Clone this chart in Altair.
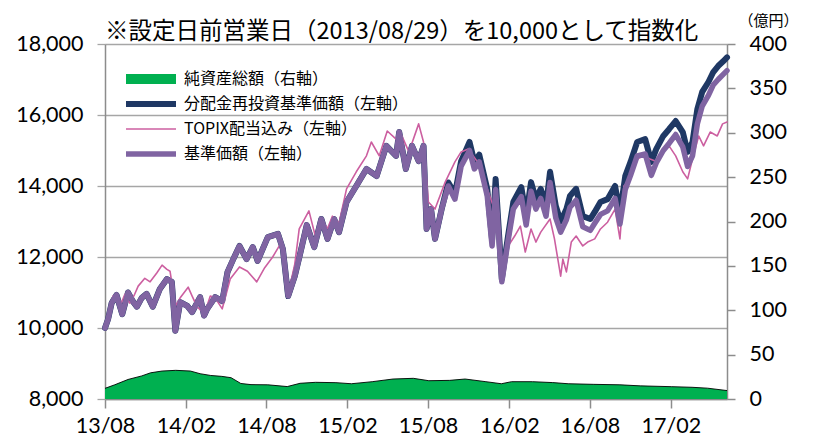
import altair as alt
import pandas as pd

# ---------------- data ----------------
S_NAV = "純資産総額（右軸）"
S_RE = "分配金再投資基準価額（左軸）"
S_TPX = "TOPIX配当込み（左軸）"
S_BASE = "基準価額（左軸）"
series_names = [S_NAV, S_RE, S_TPX, S_BASE]
series_colors = ["#00B050", "#1F3864", "#CC5FA0", "#8064A2"]
series_widths = [10, 6, 1.6, 5.5]

base_dates = [
    "2013-08-29", "2013-09-05", "2013-09-13", "2013-09-24", "2013-10-07", "2013-10-20",
    "2013-10-31", "2013-11-09", "2013-11-20", "2013-12-01", "2013-12-15", "2013-12-31",
    "2014-01-16", "2014-01-27", "2014-02-04", "2014-02-15", "2014-03-03", "2014-03-14",
    "2014-04-01", "2014-04-10", "2014-04-17", "2014-05-05", "2014-05-21", "2014-06-02",
    "2014-06-15", "2014-06-29", "2014-07-15", "2014-07-29", "2014-08-09", "2014-09-01",
    "2014-09-24", "2014-10-05", "2014-10-17", "2014-11-01", "2014-11-14", "2014-11-28",
    "2014-12-15", "2014-12-31", "2015-01-14", "2015-01-29", "2015-02-09", "2015-02-26",
    "2015-03-20", "2015-04-12", "2015-05-05", "2015-05-27", "2015-06-18", "2015-06-25",
    "2015-07-10", "2015-07-24", "2015-08-08", "2015-08-19", "2015-08-26", "2015-09-05",
    "2015-09-14", "2015-09-29", "2015-10-14", "2015-10-29", "2015-11-12", "2015-12-01",
    "2015-12-12", "2015-12-23", "2016-01-10", "2016-01-21", "2016-01-29", "2016-02-12",
    "2016-02-26", "2016-03-09", "2016-03-27", "2016-04-07", "2016-04-18", "2016-04-29",
    "2016-05-10", "2016-05-22", "2016-05-31", "2016-06-13", "2016-06-24", "2016-07-07",
    "2016-07-15", "2016-07-29", "2016-08-13", "2016-08-30", "2016-09-09", "2016-09-22",
    "2016-10-08", "2016-10-25", "2016-11-05", "2016-11-17", "2016-11-29", "2016-12-14",
    "2017-01-01", "2017-01-15", "2017-01-26", "2017-02-11", "2017-02-24", "2017-03-11",
    "2017-03-27", "2017-04-07", "2017-04-18", "2017-04-29", "2017-05-10", "2017-05-24",
    "2017-06-04", "2017-06-15", "2017-06-27", "2017-07-05",
]
base_values = [
    10000, 10250, 10700, 10930, 10390, 11000,
    10750, 10600, 10850, 10960, 10600, 11100,
    11380, 11300, 9920, 10730, 10620, 10450,
    10870, 10350, 10540, 10870, 10760, 11580,
    11940, 12310, 11940, 12280, 11890, 12560,
    12650, 12230, 10900, 11460, 12140, 12900,
    12280, 13070, 12510, 13070, 12700, 13550,
    14000, 14480, 14280, 15130, 14850, 15520,
    14480, 15130, 14700, 15130, 12790, 13350,
    12510, 13350, 14000, 13630, 14560, 15000,
    14480, 14680, 13720, 12310, 13900, 11300,
    12450, 13350, 13700, 12900, 13850, 13350,
    13650, 13150, 14100, 13100, 12700, 13050,
    13400, 13600, 12850, 12750, 12950, 13200,
    13300, 13650, 12930, 13900, 14300, 14850,
    14900, 14300, 14650, 15000, 15200, 15450,
    15100, 14550, 14850, 15750, 16250, 16550,
    16850, 17000, 17150, 17250,
]
reinvest_values = [
    10000, 10250, 10700, 10930, 10390, 11000,
    10750, 10600, 10850, 10960, 10600, 11100,
    11380, 11300, 9920, 10730, 10620, 10450,
    10870, 10350, 10540, 10870, 10760, 11580,
    11940, 12310, 11940, 12280, 11890, 12560,
    12650, 12230, 10900, 11460, 12140, 12900,
    12280, 13070, 12510, 13070, 12700, 13550,
    14000, 14480, 14280, 15130, 14850, 15520,
    14480, 15130, 14700, 15130, 12790, 13350,
    12510, 13350, 14100, 13780, 14700, 15240,
    14680, 14880, 13920, 12480, 14200, 11380,
    12590, 13550, 13970, 13150, 14110, 13630,
    13920, 13440, 14400, 13440, 13000, 13350,
    13720, 13920, 13150, 13070, 13270, 13550,
    13630, 14000, 13230, 14280, 14680, 15240,
    15320, 14680, 15040, 15410, 15600, 15830,
    15520, 14960, 15240, 16170, 16650, 16930,
    17210, 17380, 17520, 17620,
]

topix_dates = [
    "2013-08-29", "2013-09-09", "2013-09-16", "2013-09-24", "2013-10-02", "2013-10-13",
    "2013-10-24", "2013-11-04", "2013-11-12", "2013-11-27", "2013-12-09", "2013-12-24",
    "2014-01-05", "2014-01-16", "2014-01-23", "2014-02-04", "2014-02-15", "2014-03-05",
    "2014-03-14", "2014-03-25", "2014-04-11", "2014-04-24", "2014-05-05", "2014-05-21",
    "2014-06-08", "2014-06-29", "2014-07-17", "2014-08-07", "2014-08-25", "2014-09-12",
    "2014-10-02", "2014-10-17", "2014-11-01", "2014-11-11", "2014-12-03", "2014-12-19",
    "2014-12-31", "2015-01-14", "2015-01-25", "2015-02-09", "2015-02-26", "2015-03-20",
    "2015-04-12", "2015-04-23", "2015-05-11", "2015-05-29", "2015-06-18", "2015-07-01",
    "2015-07-17", "2015-08-08", "2015-08-19", "2015-08-30", "2015-09-14", "2015-10-07",
    "2015-10-29", "2015-11-12", "2015-11-28", "2015-12-19", "2016-01-10", "2016-01-26",
    "2016-02-12", "2016-02-26", "2016-03-12", "2016-03-25", "2016-04-05", "2016-04-18",
    "2016-04-29", "2016-05-10", "2016-05-31", "2016-06-10", "2016-06-24", "2016-06-29",
    "2016-07-07", "2016-07-18", "2016-07-29", "2016-08-13", "2016-08-24", "2016-09-09",
    "2016-09-22", "2016-10-08", "2016-10-25", "2016-11-05", "2016-11-14", "2016-11-29",
    "2016-12-14", "2016-12-30", "2017-01-12", "2017-01-28", "2017-02-11", "2017-02-24",
    "2017-03-11", "2017-03-27", "2017-04-07", "2017-04-18", "2017-05-02", "2017-05-13",
    "2017-05-28", "2017-06-13", "2017-06-25", "2017-07-05",
]
topix_values = [
    10000, 10500, 10900, 10850, 10620, 10950,
    10700, 10950, 11180, 11400, 11300, 11550,
    11770, 11650, 11600, 10620, 10850, 11150,
    10900, 10600, 10400, 10900, 10850, 10540,
    11380, 11720, 11600, 11300, 11700, 12000,
    12420, 10950, 11800, 12790, 13300, 12510,
    13070, 12800, 13150, 12950, 13920, 14400,
    14850, 15240, 14850, 15550, 15320, 15410,
    14960, 15750, 15240, 13550, 13350, 14110,
    14680, 14960, 15040, 14680, 13920, 13350,
    11580, 12300, 12590, 12870, 12140, 12790,
    12420, 12700, 13070, 12510, 11460, 11940,
    11580, 12420, 12590, 12310, 12420, 12510,
    12790, 12980, 13350, 12510, 14000, 14200,
    14760, 14850, 14760, 14680, 14960, 15130,
    14850, 14400, 14200, 14760, 15410, 15130,
    15520, 15410, 15750, 15800,
]

nav_dates = [
    "2013-08-29", "2013-09-20", "2013-10-20", "2013-11-20", "2013-12-10", "2014-01-05",
    "2014-02-05", "2014-03-10", "2014-04-01", "2014-04-25", "2014-05-20", "2014-06-10",
    "2014-07-02", "2014-07-25", "2014-09-01", "2014-10-15", "2014-11-13", "2014-12-18",
    "2015-02-02", "2015-03-09", "2015-04-25", "2015-06-11", "2015-07-27", "2015-08-31",
    "2015-10-17", "2015-11-21", "2016-01-07", "2016-02-11", "2016-03-05", "2016-04-21",
    "2016-06-06", "2016-07-11", "2016-09-07", "2016-11-05", "2016-12-21", "2017-03-01",
    "2017-04-17", "2017-05-22", "2017-07-05",
]
nav_values = [
    12, 16, 22, 26, 29.5, 31.5,
    32.3, 31.5, 28.5, 26.5, 25.5, 24,
    17.5, 16.2, 16, 14, 17.7, 18.8,
    18.4, 17.2, 19.5, 22.5, 23.3, 20.6,
    21.0, 22.5, 19.5, 17.2, 19.5, 19.5,
    18.5, 17.2, 16.5, 16.0, 14.8, 13.9,
    13.2, 12.2, 9.5,
]

left_ticks = [8000, 10000, 12000, 14000, 16000, 18000]
right_ticks = [0, 50, 100, 150, 200, 250, 300, 350, 400]
x_tick_dates = [(2013, 8, 29), (2014, 2, 28), (2014, 8, 29), (2015, 2, 28),
                (2015, 8, 29), (2016, 2, 29), (2016, 8, 29), (2017, 2, 28)]
x_domain = [(2013, 8, 29), (2017, 7, 5)]

TITLE = "※設定日前営業日（2013/08/29）を10,000として指数化"
RIGHT_UNIT = "（億円）"

# ---------------- frames ----------------
df_base = pd.DataFrame({"date": pd.to_datetime(base_dates), "value": base_values, "series": S_BASE})
df_re = pd.DataFrame({"date": pd.to_datetime(base_dates), "value": reinvest_values, "series": S_RE})
df_tpx = pd.DataFrame({"date": pd.to_datetime(topix_dates), "value": topix_values, "series": S_TPX})
df_nav = pd.DataFrame({"date": pd.to_datetime(nav_dates), "nav": nav_values})

NUM_FONT = "Lato"
JP_FONT = "Noto Sans CJK JP"
GRID = "#A6A6A6"
AXIS = "#8C8C8C"
LABEL_SIZE = 21.5


def dt(t):
    return alt.DateTime(year=t[0], month=t[1], date=t[2])


x_enc = alt.X(
    "date:T",
    scale=alt.Scale(domain=[dt(t) for t in x_domain], nice=False),
    axis=alt.Axis(
        values=[dt(t) for t in x_tick_dates], format="%y/%m", grid=False,
        tickSize=9, tickColor=AXIS, tickWidth=1.5, domainColor=AXIS, domainWidth=1.5,
        labelFont=NUM_FONT, labelFontSize=LABEL_SIZE, labelColor="black", labelPadding=7,
        labelFlush=False, labelOverlap=False,
    ),
    title=None,
)

y_left = alt.Y(
    "value:Q",
    scale=alt.Scale(domain=[8000, 18000], nice=False, zero=False),
    axis=alt.Axis(
        values=left_ticks, format=",.0f", grid=True, gridColor=GRID, gridWidth=1.3,
        tickSize=8, tickColor=GRID, tickWidth=1.3, domainColor=AXIS, domainWidth=1.5,
        labelFont=NUM_FONT, labelFontSize=LABEL_SIZE, labelColor="black", labelPadding=14,
    ),
    title=None,
)

stroke_scale = alt.Scale(type="ordinal", domain=series_names, range=series_colors)
sw_scale = alt.Scale(type="ordinal", domain=series_names, range=series_widths)

legend = alt.Legend(
    title=None, orient="none", legendX=16, legendY=27, padding=0,
    symbolType="M-1,0H9", symbolSize=100, labelFont=JP_FONT, labelFontSize=16,
    labelColor="black", labelLimit=500, labelOffset=43, rowPadding=9,
    clipHeight=16, symbolOpacity=1,
)


def line_layer(df):
    return alt.Chart(df).mark_line(strokeJoin="round", strokeCap="round").encode(
        x=x_enc,
        y=y_left,
        stroke=alt.Stroke("series:N", scale=stroke_scale, legend=legend),
        strokeWidth=alt.StrokeWidth("series:N", scale=sw_scale, legend=legend),
    )


lines = alt.layer(line_layer(df_re), line_layer(df_tpx), line_layer(df_base))

area = alt.Chart(df_nav).mark_area(
    color=series_colors[0], opacity=1, line={"color": "black", "strokeWidth": 0.9}
).encode(
    x=x_enc,
    y=alt.Y(
        "nav:Q",
        scale=alt.Scale(domain=[0, 400], nice=False),
        axis=alt.Axis(
            orient="right", values=right_ticks, grid=False,
            tickSize=8, tickColor=AXIS, tickWidth=1.5, domainColor=AXIS, domainWidth=1.5,
            labelFont=NUM_FONT, labelFontSize=LABEL_SIZE, labelColor="black", labelPadding=14,
            title=RIGHT_UNIT, titleAngle=0, titleX=41, titleY=-24, titleAlign="center",
            titleBaseline="middle", titleFont=JP_FONT, titleFontSize=15,
            titleFontWeight="normal", titleColor="black",
        ),
    ),
)

chart = alt.layer(area, lines).resolve_scale(y="independent").properties(
    width=622,
    height=355,
    title=alt.TitleParams(
        text=TITLE, anchor="start", frame="group", font=JP_FONT, fontSize=23.5,
        fontWeight="normal", color="black", offset=10, dy=40,
    ),
    autosize=alt.AutoSizeParams(type="none"),
    padding={"left": 97, "top": 36, "right": 78, "bottom": 44},
    background="white",
).configure_view(stroke=None)

chart.save("out.html", embed_options={"renderer": "svg", "actions": False})
